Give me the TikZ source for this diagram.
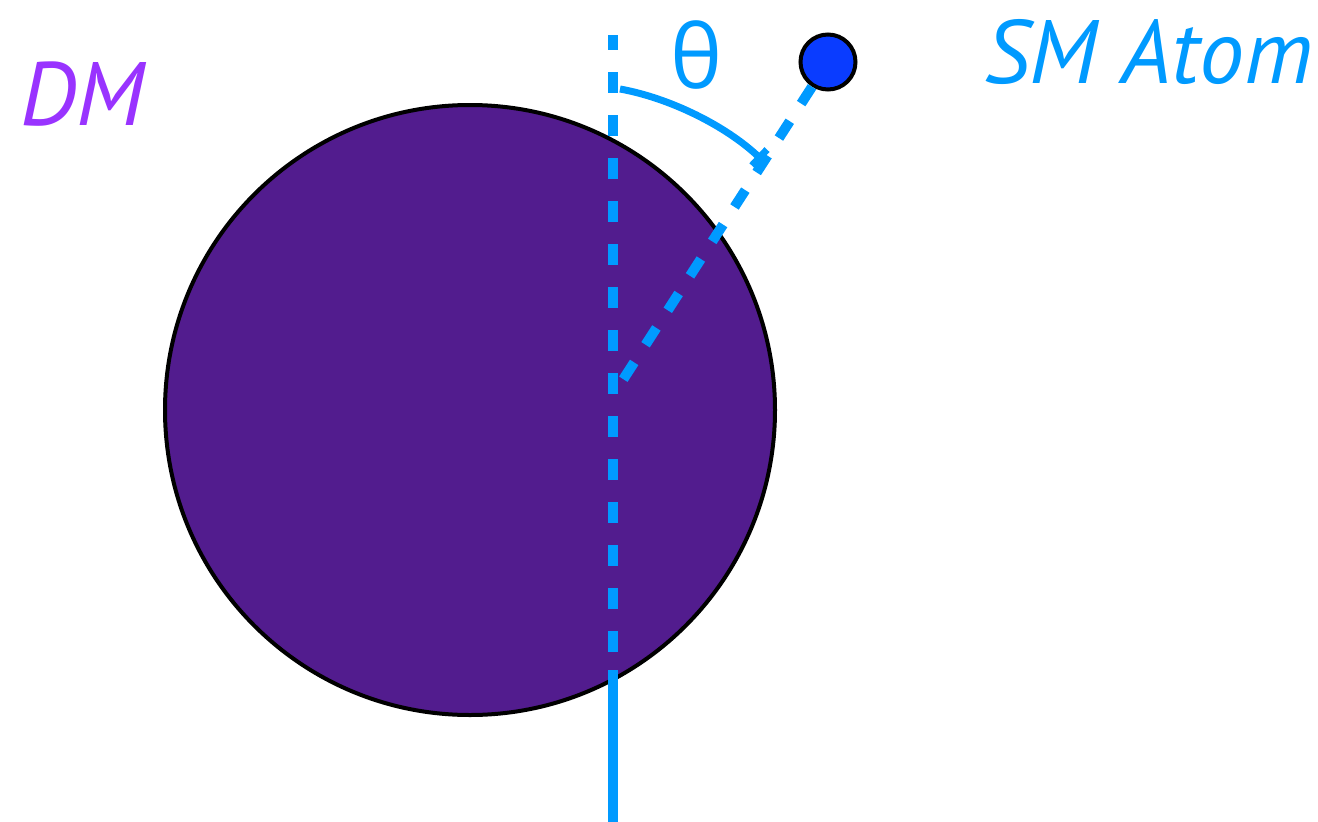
\documentclass[tikz,border=0pt]{standalone}
\usepackage{fontspec}
\newfontfamily\lab{PT Sans}
\newfontfamily\greeklab{Open Sans}
\usetikzlibrary{arrows.meta}
\definecolor{skyb}{HTML}{009AFF}
\definecolor{dmfill}{HTML}{521C8E}
\definecolor{dmtext}{HTML}{9933FF}
\definecolor{atomfill}{HTML}{0A3CFF}
\tikzset{
  label text/.style={inner sep=0pt, font=\lab\fontsize{90}{92}\selectfont},
  greek text/.style={inner sep=0pt, font=\greeklab\fontsize{88}{90}\selectfont},
  dashline/.style={draw=skyb, line width=10pt, dash pattern=on 21pt off 22pt},
  solidline/.style={draw=skyb, line width=10pt},
  anglearc/.style={draw=skyb, line width=7pt, -{Bar[width=22pt,line width=7pt]}},
}
\begin{document}
\begin{tikzpicture}[x=1pt,y=-1pt]
\useasboundingbox (0,0) rectangle (1318,822);
% dark matter sphere
\node[circle, draw=black, line width=4pt, fill=dmfill, minimum size=610pt, inner sep=0pt] (dm) at (470,410) {};
% coordinates
\coordinate (vtop) at (613,35);
\coordinate (vmid) at (613,670);
\coordinate (vbot) at (613,822);
\coordinate (cen) at (617,389);
\coordinate (arcs) at (620,89);
\coordinate (arce) at (762,160);
% atom
\node[circle, draw=black, line width=4pt, fill=atomfill, minimum size=55pt, inner sep=0pt] (atom) at (828,62) {};
% lines
\draw[dashline, dash phase=6pt] (vtop) -- (vmid);
\draw[solidline] (vmid) -- (vbot);
\draw[dashline, dash pattern=on 20pt off 21pt] (atom) -- (cen);
\draw[anglearc] (arcs) .. controls (670,98) and (726,126) .. (arce);
% labels
\node[label text, text=dmtext, anchor=base west] (dmlab) at (20,125) {\itshape DM};
\node[label text, text=skyb, anchor=base west] (smlab) at (984,83) {\itshape SM Atom};
\node[greek text, text=skyb, anchor=base] (theta) at (697,88) {θ};
\end{tikzpicture}
\end{document}
